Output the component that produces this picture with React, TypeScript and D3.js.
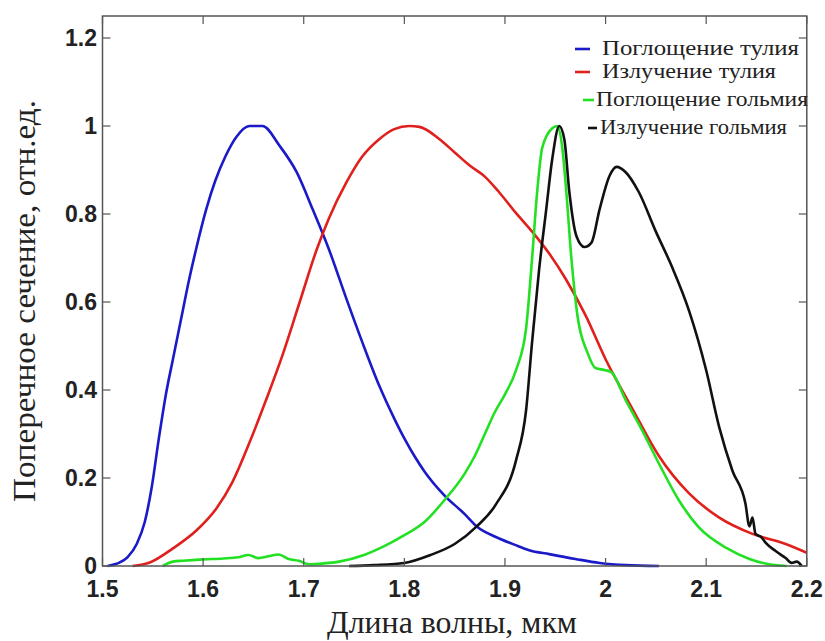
import React from "react";
import * as d3 from "d3";

const xTicks = [1.5, 1.6, 1.7, 1.8, 1.9, 2, 2.1, 2.2];
const yTicks = [0, 0.2, 0.4, 0.6, 0.8, 1, 1.2];

const legendLabels = ["Поглощение тулия", "Излучение тулия", "Поглощение гольмия", "Излучение гольмия"];

const tmAbsX = [1.505, 1.514, 1.525, 1.534, 1.542, 1.549, 1.556, 1.563, 1.57, 1.578, 1.586, 1.593, 1.603, 1.612, 1.622, 1.633, 1.646, 1.659, 1.676, 1.693, 1.709, 1.725, 1.742, 1.758, 1.775, 1.79, 1.8, 1.81, 1.82, 1.84, 1.86, 1.872, 1.891, 1.91, 1.924, 1.944, 1.97, 1.994, 2.02, 2.053];
const tmAbsY = [0, 0.005, 0.02, 0.05, 0.1, 0.18, 0.29, 0.39, 0.47, 0.56, 0.65, 0.72, 0.81, 0.875, 0.93, 0.975, 1.0, 1.0, 0.955, 0.895, 0.81, 0.72, 0.61, 0.51, 0.41, 0.335, 0.29, 0.25, 0.215, 0.16, 0.118, 0.09, 0.066, 0.048, 0.036, 0.027, 0.016, 0.007, 0.002, 0];

const tmEmX = [1.53, 1.547, 1.57, 1.593, 1.613, 1.629, 1.646, 1.663, 1.679, 1.696, 1.713, 1.725, 1.742, 1.758, 1.775, 1.79, 1.805, 1.815, 1.835, 1.85, 1.865, 1.88, 1.894, 1.91, 1.927, 1.944, 1.961, 1.98, 2.0, 2.026, 2.053, 2.083, 2.113, 2.146, 2.179, 2.2];
const tmEmY = [0, 0.008, 0.04, 0.08, 0.13, 0.19, 0.28, 0.38, 0.48, 0.6, 0.72, 0.79, 0.87, 0.93, 0.97, 0.993, 1.0, 0.998, 0.97, 0.94, 0.91, 0.885, 0.85, 0.805, 0.76, 0.71, 0.65, 0.57, 0.47, 0.36, 0.25, 0.165, 0.11, 0.073, 0.05, 0.03];

const hoAbsX = [1.56, 1.57, 1.58, 1.6, 1.62, 1.635, 1.645, 1.655, 1.665, 1.675, 1.685, 1.695, 1.705, 1.72, 1.735, 1.76, 1.78, 1.8, 1.82, 1.84, 1.86, 1.87, 1.88, 1.89, 1.9, 1.911, 1.921, 1.927, 1.932, 1.937, 1.947, 1.952, 1.957, 1.961, 1.966, 1.972, 1.982, 1.99, 2.0, 2.006, 2.02, 2.036, 2.053, 2.073, 2.093, 2.12, 2.143, 2.16, 2.18];
const hoAbsY = [0, 0.01, 0.012, 0.015, 0.017, 0.02, 0.025, 0.018, 0.022, 0.026, 0.016, 0.012, 0.004, 0.006, 0.01, 0.025, 0.045, 0.07, 0.1, 0.15, 0.21, 0.25, 0.3, 0.35, 0.39, 0.445, 0.54, 0.7, 0.85, 0.95, 0.995, 1.0, 0.95, 0.85, 0.7, 0.57, 0.485, 0.45, 0.445, 0.44, 0.377, 0.31, 0.233, 0.149, 0.087, 0.041, 0.016, 0.005, 0];

const hoEmX = [1.745, 1.77, 1.8, 1.826, 1.85, 1.872, 1.891, 1.911, 1.921, 1.927, 1.934, 1.941, 1.947, 1.954, 1.959, 1.964, 1.971, 1.979, 1.986, 1.994, 2.004, 2.011, 2.02, 2.033, 2.05, 2.066, 2.083, 2.1, 2.113, 2.126, 2.139, 2.143, 2.146, 2.149, 2.155, 2.159, 2.169, 2.179, 2.185, 2.19, 2.195];
const hoEmY = [0, 0.002, 0.007, 0.025, 0.05, 0.09, 0.14, 0.24, 0.354, 0.51, 0.675, 0.81, 0.925, 1.0, 0.97, 0.85, 0.75, 0.725, 0.735, 0.81, 0.887, 0.907, 0.895, 0.85, 0.76, 0.68, 0.58, 0.445, 0.315, 0.217, 0.142, 0.09, 0.11, 0.073, 0.065, 0.053, 0.034, 0.018, 0.007, 0.01, 0];

const colors = ["#1a1ac8", "#e0201c", "#22e022", "#111111"];

export default function App() {
  const left = 102.5, right = 806.8, top = 16, bottom = 566;
  const x = d3.scaleLinear().domain([1.5, 2.2]).range([left, right]);
  const y = d3.scaleLinear().domain([0, 1.2]).range([bottom, 38]);

  const series = [
    { xs: tmAbsX, ys: tmAbsY },
    { xs: tmEmX, ys: tmEmY },
    { xs: hoAbsX, ys: hoAbsY },
    { xs: hoEmX, ys: hoEmY },
  ];
  const line = d3
    .line<[number, number]>()
    .x((d) => x(d[0]))
    .y((d) => y(d[1]))
    .curve(d3.curveMonotoneX);

  const tickLen = 8;
  const frame = "#555";
  const legendY = [49, 72, 100, 128];
  const legendLine = [[575, 590], [575, 590], [583, 594], [588, 597]];
  const legendTextX = [602, 602, 596, 600];
  const legendTextW = [197, 174, 212, 187];

  return (
    <svg
      width={825}
      height={641}
      style={{ position: "absolute", left: 0, top: 0, background: "#fff" }}
    >
      <rect x={0} y={0} width={825} height={641} fill="#fff" />
      {series.map((s, i) => (
        <path
          key={i}
          d={line(s.xs.map((v, j) => [v, s.ys[j]] as [number, number])) || ""}
          fill="none"
          stroke={colors[i]}
          strokeWidth={2.6}
          strokeLinejoin="round"
        />
      ))}
      <rect x={left} y={top} width={right - left} height={bottom - top} fill="none" stroke={frame} strokeWidth={1.5} />
      {xTicks.map((t) => (
        <g key={"x" + t}>
          <line x1={x(t)} x2={x(t)} y1={bottom} y2={bottom - tickLen} stroke={frame} strokeWidth={1.2} />
          <line x1={x(t)} x2={x(t)} y1={top} y2={top + tickLen} stroke={frame} strokeWidth={1.2} />
          <text
            x={x(t)}
            y={597}
            textAnchor="middle"
            fontFamily="'Liberation Sans', Arial, sans-serif"
            fontWeight="bold"
            fontSize={23}
            fill="#222"
          >
            {String(t)}
          </text>
        </g>
      ))}
      {yTicks.map((t) => (
        <g key={"y" + t}>
          <line x1={left} x2={left + tickLen} y1={y(t)} y2={y(t)} stroke={frame} strokeWidth={1.2} />
          <line x1={right} x2={right - tickLen} y1={y(t)} y2={y(t)} stroke={frame} strokeWidth={1.2} />
          <text
            x={97}
            y={y(t) + 8}
            textAnchor="end"
            fontFamily="'Liberation Sans', Arial, sans-serif"
            fontWeight="bold"
            fontSize={23}
            fill="#222"
          >
            {String(t)}
          </text>
        </g>
      ))}
      <text
        transform="translate(35,301) rotate(-90)"
        textAnchor="middle"
        fontFamily="'Liberation Serif', 'Times New Roman', serif"
        fontSize={31}
        fill="#222"
        textLength={402}
        lengthAdjust="spacingAndGlyphs"
      >
        Поперечное сечение, отн.ед.
      </text>
      <text
        x={452}
        y={633}
        textAnchor="middle"
        fontFamily="'Liberation Serif', 'Times New Roman', serif"
        fontSize={31}
        fill="#222"
        textLength={250}
        lengthAdjust="spacingAndGlyphs"
      >
        Длина волны, мкм
      </text>
      {legendLabels.map((lab, i) => (
        <g key={lab}>
          <line
            x1={legendLine[i][0]}
            x2={legendLine[i][1]}
            y1={legendY[i]}
            y2={legendY[i]}
            stroke={colors[i]}
            strokeWidth={2.6}
          />
          <text
            x={legendTextX[i]}
            y={legendY[i] + 6}
            fontFamily="'Liberation Serif', 'Times New Roman', serif"
            fontSize={22}
            fill="#222"
            textLength={legendTextW[i]}
            lengthAdjust="spacingAndGlyphs"
          >
            {lab}
          </text>
        </g>
      ))}
    </svg>
  );
}
